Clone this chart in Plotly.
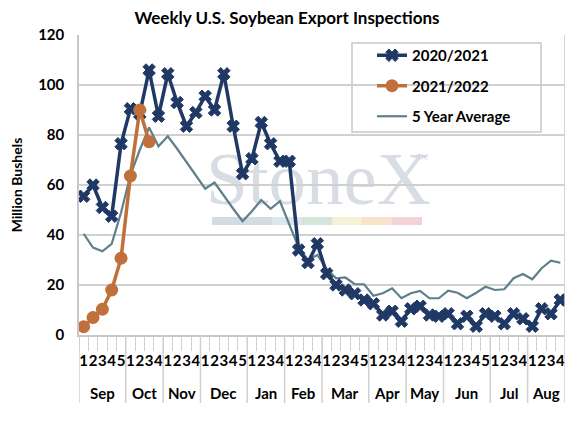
import plotly.graph_objects as go

# semanas por mês (ano comercial set-ago)
meses = ['Sep', 'Oct', 'Nov', 'Dec', 'Jan', 'Feb', 'Mar', 'Apr', 'May', 'Jun', 'Jul', 'Aug']
semanas_por_mes = [5, 4, 4, 5, 4, 4, 5, 4, 4, 5, 4, 4]

# milhões de bushels
safra_2020_21 = [55.5, 60, 51, 47.5, 76.5, 90.5, 88.5, 106, 87.5, 104.5, 93, 83.5,
                 89, 95.5, 90, 104.5, 83.5, 64.5, 70.5, 85, 76.5, 69.5, 69.5, 34,
                 29, 36.5, 24.5, 20, 18, 16.5, 14, 12.5, 8, 9.5, 5.5, 10.5,
                 11.5, 8, 7.5, 8.5, 4.5, 7.5, 3.5, 8.5, 7.5, 4.5, 8.5, 6.5,
                 3.5, 10.5, 8.5, 14]
safra_2021_22 = [3.3, 7, 10.3, 18, 30.7, 63.6, 90, 77.3]
media_5_anos = [40.5, 35, 33.5, 36.5, 49, 64, 74, 83, 75.5, 79.5, 74.5, 69,
                64, 58.5, 61, 55.5, 50.5, 45.5, 49.5, 54, 50.5, 53.5, 44, 35,
                30, 32, 26.5, 22.7, 23, 20.3, 20.3, 15.7, 16.7, 18.7, 14.7, 16.7,
                17.6, 14.7, 14.7, 17.7, 16.9, 14.7, 16.9, 19.3, 18, 18.3, 22.7, 24.4,
                22.3, 26.7, 29.7, 28.9]

# categorias únicas (mês-semana) e rótulos só com o número da semana
categorias = []
rotulos_semana = []
for mes, n in zip(meses, semanas_por_mes):
    for s in range(1, n + 1):
        categorias.append(f'{mes}-{s}')
        rotulos_semana.append(str(s))

AZUL = '#1f3864'
LARANJA = '#c0703a'
CINZA = '#5e7f8b'
GRADE = '#d0d0d0'
FONTE = 'Lato'

fig = go.Figure()

fig.add_trace(go.Scatter(
    x=categorias,
    y=media_5_anos,
    mode='lines',
    name='5 Year Average',
    legendrank=3, legendgroup='c',
    line=dict(color=CINZA, width=2.2)
))
fig.add_trace(go.Scatter(
    x=categorias,
    y=safra_2020_21,
    mode='lines+markers',
    name='2020/2021',
    legendrank=1, legendgroup='a',
    line=dict(color=AZUL, width=3.5),
    marker=dict(symbol='x', size=11, color=AZUL, line=dict(color=AZUL, width=1))
))
fig.add_trace(go.Scatter(
    x=categorias[:len(safra_2021_22)],
    y=safra_2021_22,
    mode='lines+markers',
    name='2021/2022',
    legendrank=2, legendgroup='b',
    line=dict(color=LARANJA, width=3.5),
    marker=dict(symbol='circle', size=13, color=LARANJA)
))

# coordenadas de referência (pixels da imagem) da área do gráfico
esq, larg, topo, alt = 79, 486, 35, 300
# a página desloca a figura 8 px para a direita e para baixo
desl = 8
W, H = 573, 421

def px(x):
    return (x - esq) / larg

def py(y):
    return 1 - (y - topo) / alt

shapes = []
annotations = []

# divisórias e nomes dos meses (posições vindas da contagem de semanas)
inicio = 0
for mes, n in zip(meses, semanas_por_mes):
    shapes.append(dict(type='line', xref='x', yref='paper',
                       x0=inicio - 0.5, x1=inicio - 0.5, y0=0, y1=py(403),
                       line=dict(color=GRADE, width=1.5)))
    annotations.append(dict(text=f'<b>{mes}</b>', xref='x', yref='paper',
                            x=inicio + (n - 1) / 2, y=py(393), yanchor='middle',
                            showarrow=False, font=dict(size=15, family=FONTE)))
    inicio += n
shapes.append(dict(type='line', xref='x', yref='paper',
                   x0=inicio - 0.5, x1=inicio - 0.5, y0=0, y1=py(403),
                   line=dict(color=GRADE, width=1.5)))

# marca d'água StoneX
cores_barra = ['#d3dbe3', '#dce7ef', '#d6e5da', '#f4f1d6', '#f7e3cb', '#f3d3d7']
limites = [212, 272, 302, 332, 362, 392, 422]
for i, cor in enumerate(cores_barra):
    shapes.append(dict(
        type='rect', xref='paper', yref='paper', layer='below',
        x0=px(limites[i]), x1=px(limites[i + 1]),
        y0=py(225), y1=py(217),
        fillcolor=cor, line=dict(width=0)
    ))
shapes.append(dict(
    type='rect', xref='paper', yref='paper', layer='below',
    x0=px(205), x1=px(432), y0=py(205), y1=py(135),
    line=dict(width=0),
    label=dict(text='StoneX', textposition='middle center',
               font=dict(family='Liberation Serif', size=75, color='#d8dde4'))
))
annotations.append(dict(text='TM', xref='paper', yref='paper',
                        x=px(430), y=py(157),
                        showarrow=False, font=dict(size=7, color='#cfd5dd')))
# borda da legenda
shapes.append(dict(
    type='rect', xref='paper', yref='paper',
    x0=px(352), x1=px(541), y0=py(132), y1=py(43),
    line=dict(color='#c8c8c8', width=1.5), fillcolor='rgba(0,0,0,0)'
))
# linha direita da área do gráfico
shapes.append(dict(type='line', xref='paper', yref='paper', x0=1, x1=1, y0=0, y1=1,
                   line=dict(color='#c8c8c8', width=1.5)))

fig.update_layout(
    width=W, height=H,
    margin=dict(l=esq - desl, r=W - (esq + larg - desl), t=topo - desl,
                b=H - (topo + alt - desl), autoexpand=False),
    paper_bgcolor='white', plot_bgcolor='white',
    font=dict(family=FONTE, color='black'),
    title=dict(text='<b>Weekly U.S. Soybean Export Inspections</b>',
               x=(287 - desl) / W, xanchor='center',
               y=1 - (18 - desl) / H, yanchor='middle',
               font=dict(size=17, family=FONTE)),
    showlegend=True,
    legend=dict(x=px(372), y=py(39),
                xanchor='left', yanchor='top',
                traceorder='grouped', tracegroupgap=8,
                bgcolor='rgba(0,0,0,0)', borderwidth=0,
                font=dict(size=15, family=FONTE, weight='bold')),
    shapes=shapes,
    annotations=annotations,
    xaxis=dict(
        type='category',
        range=[-0.5, len(categorias) - 0.5],
        automargin=False,
        showgrid=False,
        showline=True, linecolor='#c8c8c8', linewidth=1.5,
        ticks='outside', tickcolor=GRADE, ticklen=14, tickwidth=1,
        tickson='boundaries',
        tickangle=0,
        tickmode='array', tickvals=categorias, ticktext=rotulos_semana,
        ticklabelstandoff=11,
        tickfont=dict(size=15, family=FONTE, weight='bold')
    ),
    yaxis=dict(
        automargin=False,
        range=[0, 120], dtick=20,
        showgrid=True, gridcolor=GRADE, gridwidth=1.5,
        showline=True, linecolor='#c8c8c8', linewidth=1.5,
        zeroline=False,
        ticklabelstandoff=10,
        tickfont=dict(size=15, family=FONTE, weight='bold'),
        title=dict(text='<b>Million Bushels</b>', font=dict(size=14, family=FONTE), standoff=14)
    )
)

fig.write_html('out.html')
